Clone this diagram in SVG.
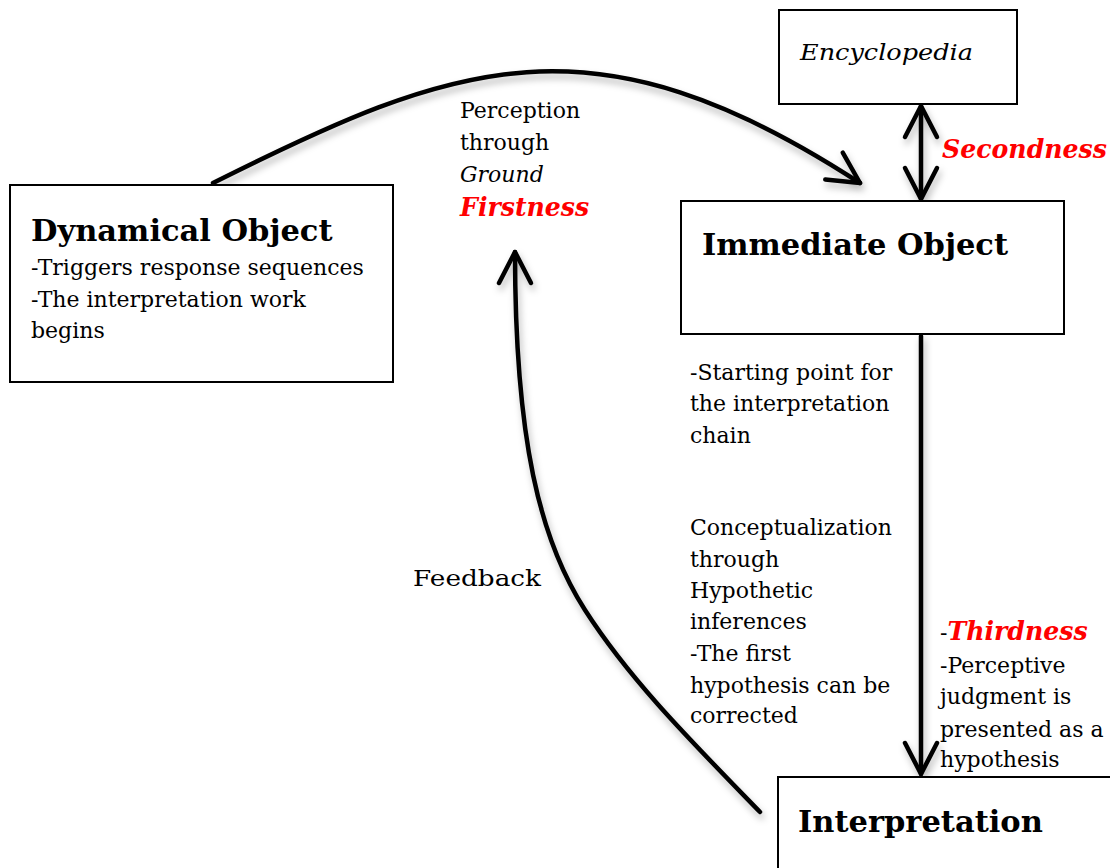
<svg xmlns="http://www.w3.org/2000/svg" width="1110" height="868" viewBox="0 0 1110 868">
<defs>
<style>
.box{fill:#fff;stroke:#000;stroke-width:2}
.t{font-family:"DejaVu Serif","Liberation Serif",serif;font-size:22px;fill:#000}
.title{font-family:"DejaVu Serif","Liberation Serif",serif;font-size:30.5px;font-weight:bold;fill:#000}
.red{font-family:"DejaVu Serif","Liberation Serif",serif;font-size:25.2px;font-weight:bold;font-style:italic;fill:#ff0000}
.it{font-style:italic}
.conn{fill:none;stroke:#000;stroke-width:4.5;stroke-linecap:round}
</style>
<marker id="ah" markerUnits="userSpaceOnUse" viewBox="-36 -20 40 40" refX="0" refY="0" markerWidth="40" markerHeight="40" orient="auto-start-reverse">
<path d="M-31,-16 L0,0 L-31,16" fill="none" stroke="#000" stroke-width="4.5" stroke-linecap="round" stroke-linejoin="round"/>
</marker>
<filter id="sh" x="-20%" y="-20%" width="140%" height="140%">
<feDropShadow dx="2" dy="5" stdDeviation="3.5" flood-color="#000" flood-opacity="0.28"/>
</filter>
</defs>
<rect width="1110" height="868" fill="#fff"/>
<g id="connectors" filter="url(#sh)">
<path id="c-perception" class="conn" d="M213,183 C455,62 592,8.5 860,183" marker-end="url(#ah)"/>
<path id="c-secondness" class="conn" d="M921,106 L921,199" marker-start="url(#ah)" marker-end="url(#ah)"/>
<path id="c-thirdness" class="conn" d="M921,336 L921,774" marker-end="url(#ah)"/>
<path id="c-feedback" class="conn" d="M760,812 C690,740 630,680 585,610 C540,540 515,440 515,252" marker-end="url(#ah)"/>
</g>
<g id="dynamical-object">
<rect class="box" x="10" y="185" width="383" height="197"/>
<text class="title" x="31" y="241">Dynamical Object</text>
<text class="t" x="31" y="275">-Triggers response sequences</text>
<text class="t" x="31" y="307">-The interpretation work</text>
<text class="t" x="31" y="338">begins</text>
</g>
<g id="encyclopedia">
<rect class="box" x="779" y="10" width="238" height="94"/>
<text class="t it" x="800" y="60" font-size="25" textLength="173" lengthAdjust="spacingAndGlyphs">Encyclopedia</text>
</g>
<g id="immediate-object">
<rect class="box" x="681" y="201" width="383" height="133"/>
<text class="title" x="702" y="255">Immediate Object</text>
</g>
<g id="interpretation">
<rect class="box" x="778" y="777" width="340" height="100"/>
<text class="title" x="798" y="832">Interpretation</text>
</g>
<g id="label-perception">
<text class="t" x="460" y="118">Perception</text>
<text class="t" x="460" y="150">through</text>
<text class="t it" x="460" y="182">Ground</text>
<text class="red" x="460" y="216">Firstness</text>
</g>
<g id="label-secondness">
<text class="red" x="942" y="158">Secondness</text>
</g>
<g id="label-starting">
<text class="t" x="690" y="380">-Starting point for</text>
<text class="t" x="690" y="411">the interpretation</text>
<text class="t" x="690" y="443">chain</text>
</g>
<g id="label-conceptualization">
<text class="t" x="690" y="535">Conceptualization</text>
<text class="t" x="690" y="567">through</text>
<text class="t" x="690" y="598">Hypothetic</text>
<text class="t" x="690" y="629">inferences</text>
<text class="t" x="690" y="661">-The first</text>
<text class="t" x="690" y="693">hypothesis can be</text>
<text class="t" x="690" y="723">corrected</text>
</g>
<g id="label-thirdness">
<text class="t" x="940" y="640">-<tspan class="red">Thirdness</tspan></text>
<text class="t" x="940" y="673">-Perceptive</text>
<text class="t" x="940" y="704">judgment is</text>
<text class="t" x="940" y="737">presented as a</text>
<text class="t" x="940" y="767">hypothesis</text>
</g>
<g id="label-feedback">
<text class="t" x="413" y="586" font-size="24" textLength="128" lengthAdjust="spacingAndGlyphs">Feedback</text>
</g>
</svg>
